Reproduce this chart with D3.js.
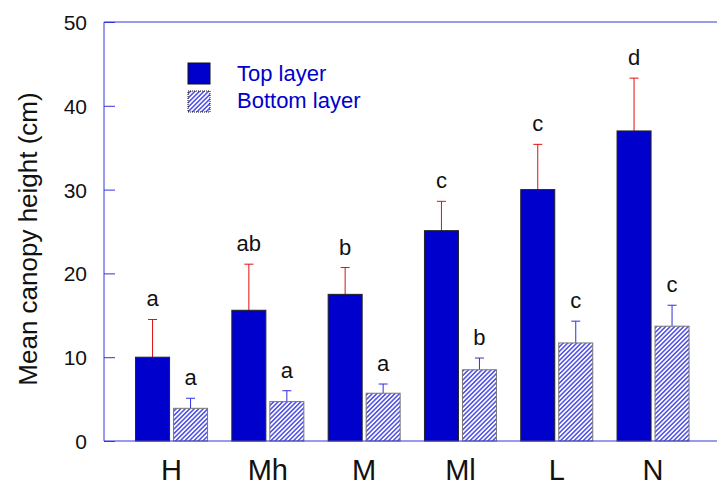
<!DOCTYPE html>
<html><head><meta charset="utf-8">
<script src="https://cdn.jsdelivr.net/npm/d3@7"></script>
<style>body{margin:0;background:#fff}svg{display:block;font-family:Arial,"Liberation Sans",sans-serif}</style>
</head><body><svg id="c" width="717" height="487"></svg>
<script>
const categories = ["H","Mh","M","Ml","L","N"];
const topValues = [10.0, 15.6, 17.5, 25.1, 30.0, 37.0];
const topErrors = [4.5, 5.5, 3.2, 3.5, 5.4, 6.3];
const topLetters = ["a","ab","b","c","c","d"];
const bottomValues = [3.9, 4.7, 5.7, 8.5, 11.7, 13.7];
const bottomErrors = [1.2, 1.3, 1.1, 1.4, 2.6, 2.5];
const bottomLetters = ["a","a","a","b","c","c"];
const yTicks = [0,10,20,30,40,50];
const seriesNames = ["Top layer","Bottom layer"];

const svg = d3.select("#c");
const axisColor = "#3434e0";
const x = d3.scaleBand().domain(categories).range([123.4, 701.2]).paddingInner(0).paddingOuter(0);
const y = d3.scaleLinear().domain([0,50]).range([441,22]);
const barW = 34, gap = 4;

const defs = svg.append("defs");
const pat = defs.append("pattern").attr("id","hatch").attr("patternUnits","userSpaceOnUse")
  .attr("width",3.2).attr("height",3.2).attr("patternTransform","rotate(45)");
pat.append("rect").attr("width",3.2).attr("height",3.2).attr("fill","#fff");
pat.append("line").attr("x1",0.8).attr("y1",0).attr("x2",0.8).attr("y2",3.2).attr("stroke","#1e1ee0").attr("stroke-width",1.2);

// axes
const yAxis = d3.axisLeft(y).tickValues(yTicks).tickSize(-11).tickPadding(17);
const gy = svg.append("g").attr("transform","translate(104,0)").call(yAxis);
gy.select(".domain").attr("stroke",axisColor).attr("d","M0,22V441");
gy.selectAll(".tick line").attr("stroke",axisColor);
gy.selectAll(".tick text").attr("font-size",21).attr("fill","#111").attr("font-family","Arial, 'Liberation Sans', sans-serif").attr("dy","0.36em");
svg.append("line").attr("x1",104).attr("x2",717).attr("y1",y(50)).attr("y2",y(50)).attr("stroke",axisColor);

const cx = d => x(d) + x.bandwidth()/2;

// bars
categories.forEach((c,i)=>{
  const xl = cx(c) - gap/2 - barW;
  const xr = cx(c) + gap/2;
  const et = y(topValues[i]+topErrors[i]);
  svg.append("line").attr("x1",xl+barW/2).attr("x2",xl+barW/2).attr("y1",y(topValues[i])).attr("y2",et).attr("stroke","#e01010").attr("stroke-width",1);
  svg.append("line").attr("x1",xl+barW/2-4.5).attr("x2",xl+barW/2+4.5).attr("y1",et).attr("y2",et).attr("stroke","#e01010").attr("stroke-width",1);
  svg.append("rect").attr("x",xl).attr("y",y(topValues[i])).attr("width",barW).attr("height",y(0)-y(topValues[i]))
    .attr("fill","#0000cc").attr("stroke","#222").attr("stroke-width",1);
  svg.append("text").attr("x",xl+barW/2).attr("y",et-13).attr("text-anchor","middle").attr("font-size",22).attr("fill","#111").text(topLetters[i]);
  const eb = y(bottomValues[i]+bottomErrors[i]);
  svg.append("line").attr("x1",xr+barW/2).attr("x2",xr+barW/2).attr("y1",y(bottomValues[i])).attr("y2",eb).attr("stroke","#3030e0").attr("stroke-width",1);
  svg.append("line").attr("x1",xr+barW/2-4.5).attr("x2",xr+barW/2+4.5).attr("y1",eb).attr("y2",eb).attr("stroke","#3030e0").attr("stroke-width",1);
  svg.append("rect").attr("x",xr).attr("y",y(bottomValues[i])).attr("width",barW).attr("height",y(0)-y(bottomValues[i]))
    .attr("fill","url(#hatch)").attr("stroke","#777").attr("stroke-width",1);
  svg.append("text").attr("x",xr+barW/2).attr("y",eb-13).attr("text-anchor","middle").attr("font-size",22).attr("fill","#111").text(bottomLetters[i]);
});

// x axis
const xAxis = d3.axisBottom(x).tickSize(0).tickPadding(0);
const gx = svg.append("g").attr("transform","translate(0,441)").call(xAxis);
gx.select(".domain").attr("stroke",axisColor).attr("d","M104,0H717");
gx.selectAll(".tick text").attr("font-size",29).attr("fill","#111").attr("dy",null).attr("y",39)
  .attr("font-family","Arial, 'Liberation Sans', sans-serif");

// y label
svg.append("text").attr("transform","translate(37,239) rotate(-90)").attr("text-anchor","middle")
  .attr("font-size",26).attr("fill","#111").text("Mean canopy height (cm)");

// legend
const lg = svg.append("g");
lg.append("rect").attr("x",188).attr("y",63).attr("width",22).attr("height",21).attr("fill","#0000cc").attr("stroke","#111");
lg.append("rect").attr("x",188).attr("y",91).attr("width",22).attr("height",21).attr("fill","url(#hatch)").attr("stroke","#111").attr("stroke-dasharray","1,1");
lg.append("text").attr("x",237).attr("y",81).attr("font-size",22).attr("fill","#0000cc").text(seriesNames[0]);
lg.append("text").attr("x",237).attr("y",108).attr("font-size",22).attr("fill","#0000cc").text(seriesNames[1]);
</script></body></html>
